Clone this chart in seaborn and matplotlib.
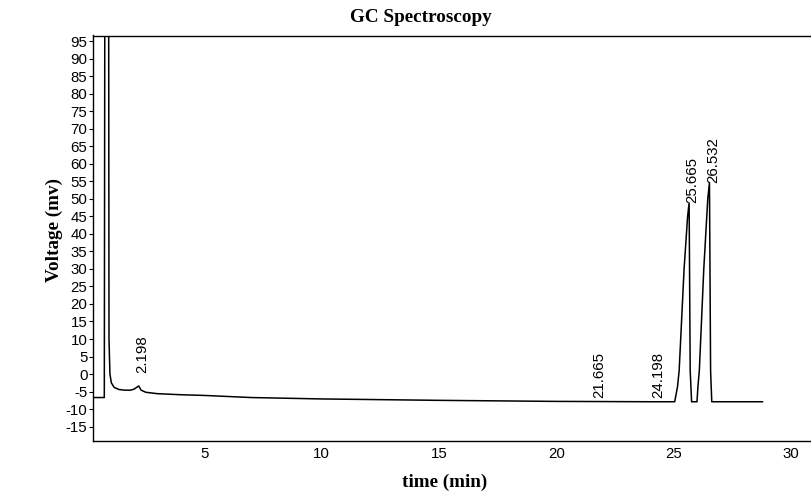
import matplotlib
matplotlib.use("Agg")
import matplotlib.pyplot as plt
import seaborn as sns
import pandas as pd

# ---- data ----
time_min = [0.0, 0.72, 0.73, 0.76, 0.84, 0.91, 0.93, 0.97, 1.03, 1.15, 1.35,
            1.6, 1.85, 2.0, 2.198, 2.3, 2.5, 3.0, 4.0, 5.0, 7.0, 10.0, 15.0,
            20.0, 24.0, 25.05, 25.17, 25.24, 25.45, 25.60, 25.665, 25.71,
            25.77, 26.0, 26.04, 26.10, 26.29, 26.46, 26.532, 26.58, 26.63,
            27.0, 28.8]
voltage_mv = [-6.7, -6.7, -6.7, 150, 160, 150, 10, 0, -2.5, -3.8, -4.4,
              -4.6, -4.6, -4.3, -3.4, -4.6, -5.2, -5.6, -5.9, -6.1, -6.7, -7.1, -7.5,
              -7.8, -7.9, -7.9, -3.6, 1, 30, 45, 48.8, 1,
              -7.9, -7.9, -3.6, 1, 30, 50, 54.6, 1, -7.9,
              -7.9, -7.9]

peak_times = [2.198, 21.665, 24.198, 25.665, 26.532]
peak_heights = [-3.4, -7.9, -7.9, 48.8, 54.6]
peak_labels = ["2.198", "21.665", "24.198", "25.665", "26.532"]

y_ticks = list(range(-15, 100, 5))
x_ticks = [5, 10, 15, 20, 25, 30]

df = pd.DataFrame({"time": time_min, "voltage": voltage_mv})

sns.set_style("white")
plt.rcParams["font.family"] = ["Liberation Sans", "DejaVu Sans"]
plt.rcParams["text.color"] = "black"
plt.rcParams["axes.labelcolor"] = "black"

fig = plt.figure(figsize=(8.12, 5.0), dpi=100)
ax = fig.add_axes([93 / 812, 1 - 441 / 500, 1 - 93 / 812 + 0.01, (441 - 35.5) / 500])

sns.lineplot(data=df, x="time", y="voltage", ax=ax, color="black",
             linewidth=1.1, estimator=None, sort=False)

ax.set_xlim(0.248, 31.25)
ax.set_ylim(-19.1, 96.6)
ax.set_yticks(y_ticks)
ax.set_yticklabels([str(v) for v in y_ticks])
ax.set_xticks(x_ticks)
ax.set_xticklabels([str(v) for v in x_ticks])

ax.tick_params(axis="y", which="major", length=3, width=0.8, pad=1,
               labelsize=10.8, direction="out", left=True, colors="black")
ax.tick_params(axis="x", which="major", length=0, pad=4, labelsize=10.8,
               colors="black")

for side in ["left", "bottom", "top", "right"]:
    ax.spines[side].set_color("black")
    ax.spines[side].set_linewidth(1.0)

ax.set_xlabel("time (min)", fontfamily="Liberation Serif", fontweight="bold",
              fontsize=13.8, color="black")
ax.set_ylabel("Voltage (mv)", fontfamily="Liberation Serif", fontweight="bold",
              fontsize=13.8, color="black")
ax.xaxis.set_label_coords(0.484, -0.08)
ax.yaxis.set_label_coords(-0.041, 0.52)

label_offsets = [9, 3, 3, 0, 0]
for t, h, lab, off in zip(peak_times, peak_heights, peak_labels, label_offsets):
    ax.annotate(lab, xy=(t, h), xytext=(2.5, off), textcoords="offset points",
                rotation=90, ha="center", va="bottom", fontsize=10.8,
                color="black")

fig.text(421 / 812, 1 - 17 / 500, "GC Spectroscopy", ha="center", va="center",
         fontfamily="Liberation Serif", fontweight="bold", fontsize=13.8,
         color="black")

fig.savefig("out.png", dpi=100)
